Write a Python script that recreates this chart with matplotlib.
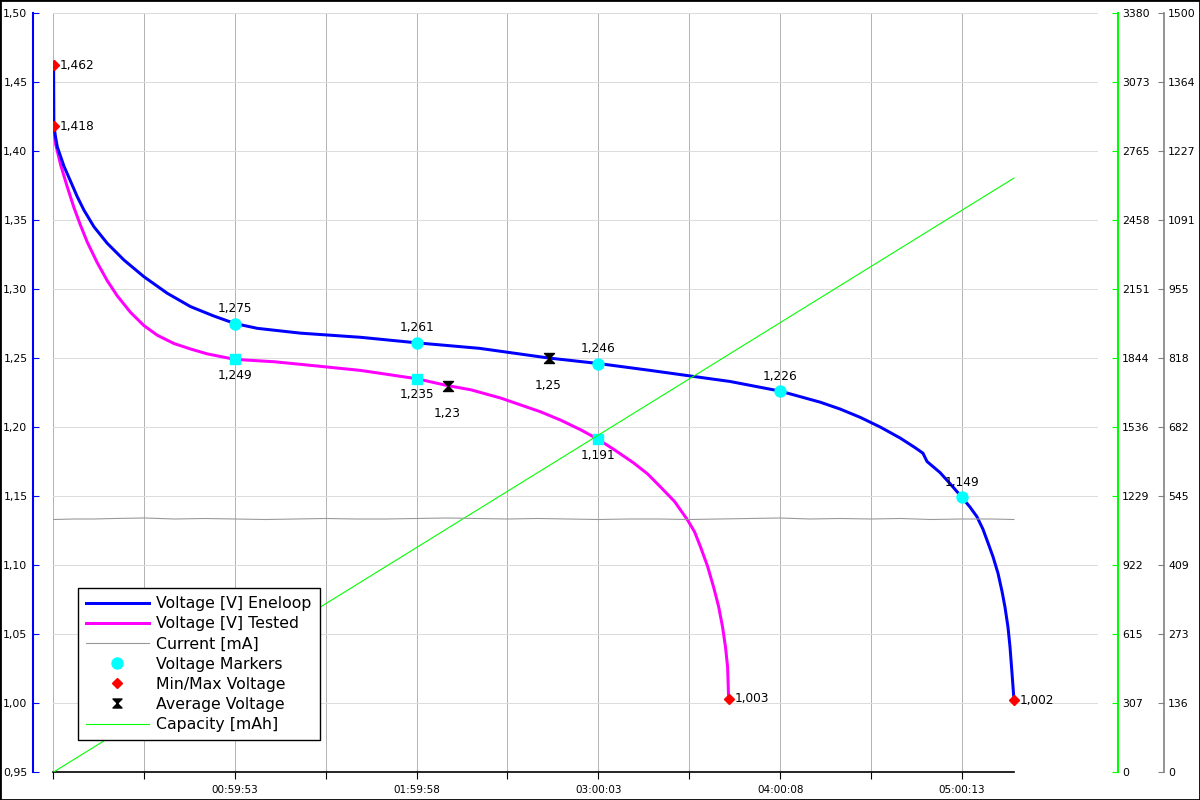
import matplotlib

matplotlib.use("Agg")
import matplotlib.pyplot as plt
from matplotlib.lines import Line2D
from matplotlib.path import Path
from matplotlib.patches import Rectangle

# Elapsed time in seconds, voltage in V, current in mA, capacity in mAh.
ENELOOP_T = [0, 5, 30, 73, 205, 337, 469, 601, 800, 1064, 1395, 1791, 2254, 2717,
             3179, 3593, 4039, 4898, 6088, 7198, 8447, 9816, 10803, 11834,
             12620, 13413, 14408, 14805, 15201, 15598, 15995, 16391, 16788,
             17085, 17240, 17320, 17578, 17776, 18013, 18172, 18310, 18429,
             18530, 18629, 18728, 18807, 18866, 18926, 18966, 19005, 19045]
ENELOOP_V = [1.462, 1.420, 1.412, 1.403, 1.389, 1.378, 1.3669, 1.3572, 1.3451,
             1.3331, 1.321, 1.3089, 1.2969, 1.2872, 1.2804, 1.275, 1.2715,
             1.268, 1.265, 1.261, 1.257, 1.250, 1.246, 1.241, 1.237, 1.233,
             1.226, 1.222, 1.218, 1.213, 1.207, 1.200, 1.192, 1.185, 1.181,
             1.175, 1.167, 1.159, 1.149, 1.142, 1.135, 1.126, 1.116, 1.106,
             1.094, 1.081, 1.0696, 1.055, 1.0406, 1.022, 1.002]

TESTED_T = [0, 40, 139, 271, 403, 535, 667, 866, 1064, 1263, 1527, 1791, 2056,
            2386, 2717, 3047, 3593, 4369, 4898, 6088, 7198, 7813, 8269, 8864,
            9261, 9658, 10054, 10451, 10803, 11140, 11501, 11779, 12036, 12314,
            12572, 12711, 12830, 12969, 13088, 13187, 13266, 13326, 13366,
            13386]
TESTED_V = [1.418, 1.405, 1.390, 1.374, 1.359, 1.346, 1.334, 1.319, 1.306,
            1.295, 1.283, 1.2735, 1.2665, 1.2605, 1.2565, 1.2530, 1.249,
            1.2473, 1.2454, 1.241, 1.235, 1.230, 1.227, 1.221, 1.216, 1.211,
            1.205, 1.198, 1.191, 1.183, 1.174, 1.166, 1.1565, 1.146, 1.1326,
            1.124, 1.113, 1.099, 1.084, 1.070, 1.055, 1.040, 1.026, 1.003]

CURRENT_T = [0, 400, 800, 1200, 1800, 2400, 3000, 3600, 4200, 4800, 5400, 6000,
             6600, 7200, 7800, 8400, 9000, 9600, 10200, 10800, 11400, 12000,
             12600, 13200, 13800, 14400, 15000, 15600, 16200, 16800, 17400,
             18000, 18600, 19045]
CURRENT_MA = [499, 500, 500, 501, 502, 500, 501, 500, 499, 500, 501, 500, 500,
              501, 502, 501, 500, 501, 500, 499, 500, 500, 499, 500, 501, 502,
              500, 501, 500, 501, 499, 500, 500, 499]

CAPACITY_T = [0, 19045]
CAPACITY_MAH = [0, 2645]

ENELOOP_MARK_T = [3593, 7198, 10803, 14408, 18013]
ENELOOP_MARK_V = [1.275, 1.261, 1.246, 1.226, 1.149]
TESTED_MARK_T = [3593, 7198, 10803]
TESTED_MARK_V = [1.249, 1.235, 1.191]
MINMAX_T = [0, 0, 13386, 19045]
MINMAX_V = [1.462, 1.418, 1.003, 1.002]
AVG_T = [9816, 7813]
AVG_V = [1.25, 1.23]

X_TICKS = [-12, 1790.5, 3593, 5395.5, 7198, 9000.5, 10803, 12605.5, 14408,
           16210.5, 18013]
X_LABELS = ["", "", "00:59:53", "", "01:59:58", "", "03:00:03", "", "04:00:08",
            "", "05:00:13"]
V_TICKS = [0.95, 1.00, 1.05, 1.10, 1.15, 1.20, 1.25, 1.30, 1.35, 1.40, 1.45, 1.50]
CAP_TICKS = [0, 307, 615, 922, 1229, 1536, 1844, 2151, 2458, 2765, 3073, 3380]
CUR_TICKS = [0, 136, 273, 409, 545, 682, 818, 955, 1091, 1227, 1364, 1500]

BLUE, MAGENTA, GRAY, GREEN, CYAN, RED = "#0000ff", "#ff00ff", "#999999", "#00ff00", "#00ffff", "#ff0000"
PX = 0.72  # points per pixel at dpi 100

HOURGLASS = Path([(-1, 1), (1, 1), (-1, -1), (1, -1), (-1, 1)],
                 [Path.MOVETO, Path.LINETO, Path.LINETO, Path.LINETO, Path.CLOSEPOLY])


def comma(v, nd):
    return f"{v:.{nd}f}".replace(".", ",")


fig = plt.figure(figsize=(12, 8), dpi=100, facecolor="white")
ax = fig.add_axes([53 / 1200, 28 / 800, 1045 / 1200, 759 / 800])
ax2 = ax.twinx()
ax3 = ax.twinx()

# main voltage axis
ax.set_xlim(-12, 20711)
ax.set_ylim(0.95, 1.50)
ax.set_xticks(X_TICKS)
ax.set_xticklabels(X_LABELS)
ax.set_yticks(V_TICKS)
ax.set_yticklabels([comma(v, 2) for v in V_TICKS])
ax.xaxis.grid(True, color="#b4b4b4", linewidth=1 * PX)
ax.yaxis.grid(True, color="#dcdcdc", linewidth=1 * PX)
ax.set_axisbelow(True)
for s in ("top", "right"):
    ax.spines[s].set_visible(False)
ax.spines["left"].set_position(("outward", 20 * PX))
ax.spines["left"].set_color(BLUE)
ax.spines["left"].set_linewidth(1.5)
ax.spines["bottom"].set_bounds(-12, 19045)
ax.spines["bottom"].set_linewidth(1.2)
ax.tick_params(axis="y", direction="in", length=6 * PX, color=BLUE, labelsize=7.8, pad=4)
ax.tick_params(axis="x", direction="out", length=7 * PX, labelsize=7.5, pad=4)

ax.plot(TESTED_T, TESTED_V, color=MAGENTA, linewidth=3 * PX, zorder=3)
ax.plot(ENELOOP_T, ENELOOP_V, color=BLUE, linewidth=3 * PX, zorder=3)
ax.plot(ENELOOP_MARK_T, ENELOOP_MARK_V, "o", color=CYAN, markersize=11 * PX, zorder=4)
ax.plot(TESTED_MARK_T, TESTED_MARK_V, "s", color=CYAN, markersize=10 * PX, zorder=4)
ax.plot(MINMAX_T, MINMAX_V, "D", color=RED, markersize=7 * PX, zorder=4)
ax.plot(AVG_T, AVG_V, linestyle="none", marker=HOURGLASS, color="black",
        markersize=10 * PX, zorder=4)

for t, v in zip(ENELOOP_MARK_T, ENELOOP_MARK_V):
    ax.annotate(comma(v, 3), (t, v), xytext=(0, 15 * PX), textcoords="offset points",
                ha="center", va="center", fontsize=8.7, zorder=5)
for t, v in zip(TESTED_MARK_T, TESTED_MARK_V):
    ax.annotate(comma(v, 3), (t, v), xytext=(0, -16 * PX), textcoords="offset points",
                ha="center", va="center", fontsize=8.7, zorder=5)
for t, v in zip(MINMAX_T, MINMAX_V):
    ax.annotate(comma(v, 3), (t, v), xytext=(6 * PX, 0), textcoords="offset points",
                ha="left", va="center", fontsize=8.7, zorder=5)
for t, v in zip(AVG_T, AVG_V):
    ax.annotate(f"{v:g}".replace(".", ","), (t, v), xytext=(0, -28 * PX),
                textcoords="offset points", ha="center", va="center", fontsize=8.7, zorder=5)

# capacity axis
ax2.set_ylim(0, 3380)
ax2.set_yticks(CAP_TICKS)
ax2.set_yticklabels([str(c) for c in CAP_TICKS])
for s in ("top", "left", "bottom"):
    ax2.spines[s].set_visible(False)
ax2.spines["right"].set_position(("outward", 20 * PX))
ax2.spines["right"].set_color(GREEN)
ax2.spines["right"].set_linewidth(1.5)
ax2.tick_params(axis="y", direction="in", length=6 * PX, color=GREEN, labelsize=7.8, pad=3)
ax2.plot(CAPACITY_T, CAPACITY_MAH, color=GREEN, linewidth=1.1 * PX)

# current axis
ax3.set_ylim(0, 1500)
ax3.set_yticks(CUR_TICKS)
ax3.set_yticklabels([str(c) for c in CUR_TICKS])
for s in ("top", "left", "bottom"):
    ax3.spines[s].set_visible(False)
ax3.spines["right"].set_position(("outward", 66 * PX))
ax3.spines["right"].set_color("#808080")
ax3.spines["right"].set_linewidth(1.2)
ax3.tick_params(axis="y", direction="in", length=6 * PX, color="#808080", labelsize=7.8, pad=3)
ax3.plot(CURRENT_T, CURRENT_MA, color=GRAY, linewidth=1.1 * PX)

handles = [
    Line2D([], [], color=BLUE, linewidth=3 * PX),
    Line2D([], [], color=MAGENTA, linewidth=3 * PX),
    Line2D([], [], color=GRAY, linewidth=1.1 * PX),
    Line2D([], [], linestyle="none", marker="o", color=CYAN, markersize=11 * PX),
    Line2D([], [], linestyle="none", marker="D", color=RED, markersize=7 * PX),
    Line2D([], [], linestyle="none", marker=HOURGLASS, color="black", markersize=9 * PX),
    Line2D([], [], color=GREEN, linewidth=1.1 * PX),
]
labels = ["Voltage [V] Eneloop", "Voltage [V] Tested", "Current [mA]", "Voltage Markers",
          "Min/Max Voltage", "Average Voltage", "Capacity [mAh]"]
leg = ax3.legend(handles, labels, loc="lower left", bbox_to_anchor=(25 / 1045, 32 / 759),
                 fontsize=11.3, frameon=True, fancybox=False, framealpha=1,
                 edgecolor="black", handlelength=4.0, handletextpad=0.5,
                 labelspacing=0.33, borderpad=0.5, borderaxespad=0)
leg.get_frame().set_linewidth(1.0)
leg.set_zorder(10)

fig.add_artist(Rectangle((0, 0), 1, 1, transform=fig.transFigure, fill=False,
                         edgecolor="black", linewidth=2))

fig.savefig("out.png", dpi=100, facecolor="white")
